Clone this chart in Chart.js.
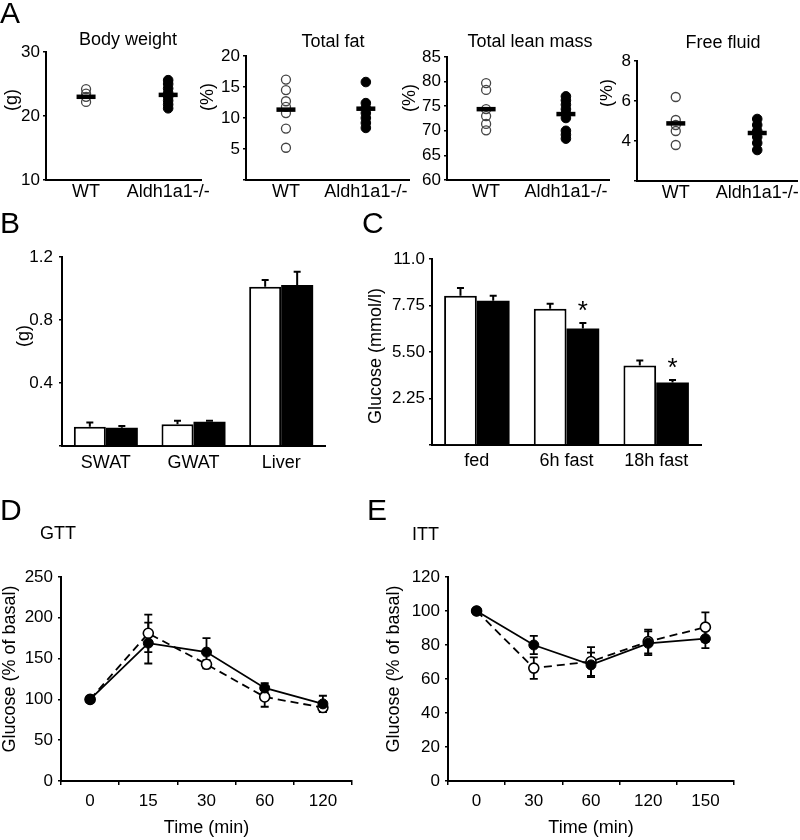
<!DOCTYPE html>
<html><head><meta charset="utf-8">
<script src="https://cdn.jsdelivr.net/npm/chart.js@4.4.1/dist/chart.umd.min.js"></script>
<style>
html,body{margin:0;padding:0;background:#fff;}
#wrap{position:relative;width:800px;height:840px;overflow:hidden;background:#fff;}
#wrap canvas{position:absolute;}
</style></head><body><div id="wrap"></div>
<script>
// ---------------- DATA ----------------
const groupLabels = ['WT', 'Aldh1a1-/-'];

const bodyWeightWT = [24.2, 23.5, 23.0, 22.2];
const bodyWeightKO = [25.6, 25.0, 24.3, 23.6, 23.0, 22.4, 21.8, 21.2];
const bodyWeightMean = [23.0, 23.3];

const totalFatWT = [16.2, 14.5, 12.7, 11.8, 10.8, 8.3, 5.2];
const totalFatKO = [15.8, 12.4, 11.6, 10.8, 10.0, 9.2, 8.4];
const totalFatMean = [11.35, 11.5];

const leanMassWT = [79.7, 78.3, 74.4, 73.0, 71.4, 70.1];
const leanMassKO = [77.0, 76.2, 75.3, 74.4, 73.5, 72.6, 70.0, 69.2, 68.4];
const leanMassMean = [74.4, 73.4];

const freeFluidWT = [6.2, 5.05, 4.8, 4.5, 3.8];
const freeFluidKO = [5.1, 4.8, 4.5, 4.2, 3.9, 3.55];
const freeFluidMean = [4.88, 4.4];

const tissueCategories = ['SWAT', 'GWAT', 'Liver'];
const tissueWT = [0.123, 0.138, 1.011];
const tissueWTErr = [0.027, 0.022, 0.043];
const tissueKO = [0.116, 0.154, 1.022];
const tissueKOErr = [0.011, 0.006, 0.085];

const glucoseCategories = ['fed', '6h fast', '18h fast'];
const glucoseWT = [8.83, 8.06, 4.70];
const glucoseWTErr = [0.45, 0.29, 0.29];
const glucoseKO = [8.53, 6.89, 3.69];
const glucoseKOErr = [0.30, 0.32, 0.16];
const glucoseSig = ['', '*', '*'];
const glucoseTickLabels = ['', '2.25', '5.50', '7.75', '11.0'];

const gttTimes = ['0', '15', '30', '60', '120'];
const gttWT = [100, 181, 143, 103, 90];
const gttWTErr = [0, 23, 5, 12, 5];
const gttKO = [100, 169, 158, 114, 94.5];
const gttKOErr = [0, 25, 17, 6, 10];

const ittTimes = ['0', '30', '60', '120', '150'];
const ittWT = [100, 66.4, 70.3, 82.0, 90.5];
const ittWTErr = [0, 6.3, 8.5, 7.0, 8.7];
const ittKO = [100, 80.0, 68.3, 81.0, 83.7];
const ittKOErr = [0, 5.4, 7.2, 7.0, 5.5];

// ---------------- SETUP ----------------
const FONT = "'Liberation Sans', Arial, Helvetica, sans-serif";
Chart.defaults.font.family = FONT;
Chart.defaults.color = '#000';
Chart.defaults.animation = false;
Chart.defaults.events = [];
Chart.defaults.plugins.legend.display = false;
Chart.defaults.plugins.tooltip.enabled = false;

function drawErrors(chart, before) {
  const ctx = chart.ctx, y = chart.scales.y;
  chart.data.datasets.forEach((ds, i) => {
    if (!ds.errors || !!ds.errBefore !== before) return;
    const meta = chart.getDatasetMeta(i);
    ctx.save();
    ctx.strokeStyle = '#000';
    ctx.lineWidth = ds.errWidth || 2;
    meta.data.forEach((el, j) => {
      const v = ds.data[j], e = ds.errors[j];
      if (!e) return;
      const x = el.x;
      const top = y.getPixelForValue(v + e);
      const bottom = y.getPixelForValue(ds.errBoth ? v - e : v);
      const cw = ds.capHalf || 4;
      ctx.beginPath();
      ctx.moveTo(x, top); ctx.lineTo(x, bottom);
      ctx.moveTo(x - cw, top); ctx.lineTo(x + cw, top);
      if (ds.errBoth) { ctx.moveTo(x - cw, bottom); ctx.lineTo(x + cw, bottom); }
      ctx.stroke();
    });
    ctx.restore();
  });
}
const errorBarPlugin = {
  id: 'errorBars',
  beforeDatasetsDraw(chart) { drawErrors(chart, true); },
  afterDatasetsDraw(chart) {
    drawErrors(chart, false);
    const ctx = chart.ctx, y = chart.scales.y;
    chart.data.datasets.forEach((ds, i) => {
      if (!ds.sig) return;
      const meta = chart.getDatasetMeta(i);
      ctx.save();
      ctx.fillStyle = '#000';
      ctx.font = '26px ' + FONT;
      ctx.textAlign = 'center';
      ctx.textBaseline = 'alphabetic';
      meta.data.forEach((el, j) => {
        if (!ds.sig[j]) return;
        const top = y.getPixelForValue(ds.data[j] + (ds.errors ? ds.errors[j] : 0));
        ctx.fillText(ds.sig[j], el.x, top - 4);
      });
      ctx.restore();
    });
  }
};

const textPlugin = {
  id: 'panelText',
  afterDraw(chart, args, opts) {
    const ctx = chart.ctx;
    (opts.items || []).forEach(it => {
      ctx.save();
      ctx.font = it.size + 'px ' + FONT;
      ctx.fillStyle = '#000';
      ctx.textAlign = it.align || 'center';
      ctx.textBaseline = it.baseline || 'middle';
      ctx.translate(it.x, it.y);
      if (it.rot) ctx.rotate(it.rot * Math.PI / 180);
      ctx.fillText(it.text, 0, 0);
      ctx.restore();
    });
  }
};

function makeCanvas(box) {
  const c = document.createElement('canvas');
  c.width = box.w; c.height = box.h;
  c.style.left = box.x + 'px'; c.style.top = box.y + 'px';
  c.style.width = box.w + 'px'; c.style.height = box.h + 'px';
  document.getElementById('wrap').appendChild(c);
  return c;
}
function frame(box, area) {
  return {
    padding: { left: 0, top: area.t - box.y, right: box.x + box.w - area.r, bottom: 0 },
    yWidth: area.l - box.x,
    xHeight: box.y + box.h - area.b
  };
}
const axisBorder = { display: true, color: '#000', width: 2 };
const yGrid = { drawOnChartArea: false, drawTicks: true, tickLength: 3, color: '#000', lineWidth: 1.5 };

// ---------------- PANEL A ----------------
function scatterPanel(box, area, cfg) {
  const f = frame(box, area);
  return new Chart(makeCanvas(box), {
    type: 'scatter',
    data: { datasets: [
      { data: cfg.means.map((v, i) => ({ x: i + 1, y: v })), pointStyle: 'line', pointRadius: 9.5,
        pointBorderColor: '#000', pointBorderWidth: 4.5, pointBackgroundColor: '#000', order: 0 },
      { data: cfg.wt.map(v => ({ x: 1, y: v })), pointRadius: 4.5, pointBackgroundColor: 'rgba(255,255,255,0)',
        pointBorderColor: '#444', pointBorderWidth: 1.3, order: 2 },
      { data: cfg.ko.map(v => ({ x: 2, y: v })), pointRadius: 4.8, pointBackgroundColor: '#000',
        pointBorderColor: '#000', pointBorderWidth: 1, order: 1 }
    ]},
    options: {
      responsive: false,
      layout: { autoPadding: false, padding: f.padding },
      scales: {
        x: { type: 'linear', min: cfg.xmin, max: cfg.xmax,
             afterFit: s => { s.height = f.xHeight; },
             afterBuildTicks: s => { s.ticks = groupLabels.map((_, i) => ({ value: i + 1 })); },
             ticks: { callback: v => groupLabels[v - 1] || '', font: { size: 18 }, padding: 1, autoSkip: false, maxRotation: 0 },
             grid: { display: false, drawTicks: false }, border: axisBorder },
        y: { min: cfg.ymin, max: cfg.ymax,
             afterFit: s => { s.width = f.yWidth; },
             ticks: { stepSize: cfg.step, callback: v => (cfg.hideMin && v === cfg.ymin) ? '' : v, font: { size: 17 }, padding: 3 },
             grid: yGrid, border: axisBorder }
      },
      plugins: { panelText: { items: cfg.texts } }
    },
    plugins: [textPlugin]
  });
}

scatterPanel({ x: 0, y: 0, w: 215, h: 205 }, { l: 46, t: 52, r: 201, b: 180 }, {
  wt: bodyWeightWT, ko: bodyWeightKO, means: bodyWeightMean, xmin: 0.512, xmax: 2.4,
  ymin: 10, ymax: 30, step: 10, hideMin: false,
  texts: [
    { text: 'A', x: 0, y: 23, size: 30, align: 'left', baseline: 'alphabetic' },
    { text: 'Body weight', x: 128, y: 40, size: 18 },
    { text: '(g)', x: 12, y: 100, size: 18, rot: -90 }
  ]
});
scatterPanel({ x: 200, y: 0, w: 215, h: 205 }, { l: 246, t: 56, r: 409, b: 180 }, {
  wt: totalFatWT, ko: totalFatKO, means: totalFatMean, xmin: 0.5, xmax: 2.54,
  ymin: 0, ymax: 20, step: 5, hideMin: true,
  texts: [
    { text: 'Total fat', x: 133, y: 42, size: 18 },
    { text: '(%)', x: 8, y: 97, size: 18, rot: -90 }
  ]
});
scatterPanel({ x: 400, y: 0, w: 215, h: 205 }, { l: 447, t: 57, r: 609, b: 180 }, {
  wt: leanMassWT, ko: leanMassKO, means: leanMassMean, xmin: 0.51, xmax: 2.54,
  ymin: 60, ymax: 85, step: 5, hideMin: false,
  texts: [
    { text: 'Total lean mass', x: 130, y: 42, size: 18 },
    { text: '(%)', x: 10, y: 98, size: 18, rot: -90 }
  ]
});
scatterPanel({ x: 600, y: 0, w: 200, h: 205 }, { l: 637, t: 61, r: 799, b: 181 }, {
  wt: freeFluidWT, ko: freeFluidKO, means: freeFluidMean, xmin: 0.524, xmax: 2.5,
  ymin: 2, ymax: 8, step: 2, hideMin: true,
  texts: [
    { text: 'Free fluid', x: 123, y: 43, size: 18 },
    { text: '(%)', x: 7, y: 93, size: 18, rot: -90 }
  ]
});

// ---------------- PANELS B, C ----------------
function barPanel(box, area, cfg) {
  const f = frame(box, area);
  return new Chart(makeCanvas(box), {
    type: 'bar',
    data: { labels: cfg.labels, datasets: [
      { data: cfg.wt, errors: cfg.wtErr, backgroundColor: '#fff', borderColor: '#000', borderWidth: 2,
        categoryPercentage: 0.73, barPercentage: 1, capHalf: 3.5 },
      { data: cfg.ko, errors: cfg.koErr, sig: cfg.sig, backgroundColor: '#000', borderColor: '#000', borderWidth: 0,
        categoryPercentage: 0.73, barPercentage: 1, capHalf: 3.5 }
    ]},
    options: {
      responsive: false,
      layout: { autoPadding: false, padding: f.padding },
      scales: {
        x: { afterFit: s => { s.height = f.xHeight; },
             ticks: { font: { size: 18 }, padding: cfg.xPad, autoSkip: false, maxRotation: 0 },
             grid: { display: false, drawTicks: false }, border: axisBorder },
        y: { min: 0, max: cfg.ymax,
             afterFit: s => { s.width = f.yWidth; },
             ticks: { stepSize: cfg.step, callback: cfg.tickCb, font: { size: 17 }, padding: cfg.yPad },
             grid: yGrid, border: axisBorder }
      },
      plugins: { panelText: { items: cfg.texts } }
    },
    plugins: [errorBarPlugin, textPlugin]
  });
}

barPanel({ x: 0, y: 205, w: 345, h: 270 }, { l: 62, t: 257, r: 325, b: 446 }, {
  labels: tissueCategories, wt: tissueWT, wtErr: tissueWTErr, ko: tissueKO, koErr: tissueKOErr,
  ymax: 1.2, step: 0.4, xPad: 6, yPad: 6,
  tickCb: v => v === 0 ? '' : v.toFixed(1),
  texts: [
    { text: 'B', x: 0, y: 28, size: 30, align: 'left', baseline: 'alphabetic' },
    { text: '(g)', x: 24, y: 131, size: 18, rot: -90 }
  ]
});
barPanel({ x: 345, y: 205, w: 455, h: 270 }, { l: 432, t: 259, r: 701, b: 445 }, {
  labels: glucoseCategories, wt: glucoseWT, wtErr: glucoseWTErr, ko: glucoseKO, koErr: glucoseKOErr, sig: glucoseSig,
  ymax: 11, step: 2.75, xPad: 5, yPad: 4,
  tickCb: (v, i) => glucoseTickLabels[i] || '',
  texts: [
    { text: 'C', x: 17, y: 28, size: 30, align: 'left', baseline: 'alphabetic' },
    { text: 'Glucose (mmol/l)', x: 31, y: 151, size: 18, rot: -90 }
  ]
});

// ---------------- PANELS D, E ----------------
function linePanel(box, area, cfg) {
  const f = frame(box, area);
  return new Chart(makeCanvas(box), {
    type: 'line',
    data: { labels: cfg.labels, datasets: [
      { data: cfg.ko, errors: cfg.koErr, errBoth: true, errBefore: true, errWidth: 1.8, capHalf: 4,
        borderColor: '#000', borderWidth: 1.8, tension: 0,
        pointRadius: 5, pointBackgroundColor: '#000', pointBorderColor: '#000', pointBorderWidth: 1, order: 0 },
      { data: cfg.wt, errors: cfg.wtErr, errBoth: true, errBefore: true, errWidth: 1.8, capHalf: 4,
        borderColor: '#000', borderWidth: 1.8, borderDash: [8, 5], tension: 0,
        pointRadius: 5, pointBackgroundColor: '#fff', pointBorderColor: '#000', pointBorderWidth: 1.6, order: 1 }
    ]},
    options: {
      responsive: false,
      layout: { autoPadding: false, padding: f.padding },
      scales: {
        x: { type: 'category', offset: true,
             afterFit: s => { s.height = f.xHeight; },
             ticks: { font: { size: 17 }, padding: 6, autoSkip: false, maxRotation: 0 },
             grid: { offset: true, drawOnChartArea: false, drawTicks: true, tickLength: 4, color: '#000', lineWidth: 1.5 },
             border: axisBorder,
             title: { display: true, text: 'Time (min)', font: { size: 18 }, padding: { top: 0, bottom: 1 } } },
        y: { min: 0, max: cfg.ymax,
             afterFit: s => { s.width = f.yWidth; },
             ticks: { stepSize: cfg.step, font: { size: 17 }, padding: 5 },
             grid: yGrid, border: axisBorder }
      },
      plugins: { panelText: { items: cfg.texts } }
    },
    plugins: [errorBarPlugin, textPlugin]
  });
}

linePanel({ x: 0, y: 475, w: 380, h: 365 }, { l: 61, t: 577, r: 352, b: 781 }, {
  labels: gttTimes, wt: gttWT, wtErr: gttWTErr, ko: gttKO, koErr: gttKOErr, ymax: 250, step: 50,
  texts: [
    { text: 'D', x: 0, y: 45, size: 30, align: 'left', baseline: 'alphabetic' },
    { text: 'GTT', x: 40, y: 59, size: 18, align: 'left' },
    { text: 'Glucose (% of basal)', x: 10, y: 194, size: 18, rot: -90 }
  ]
});
linePanel({ x: 360, y: 475, w: 440, h: 365 }, { l: 448, t: 577, r: 734, b: 781 }, {
  labels: ittTimes, wt: ittWT, wtErr: ittWTErr, ko: ittKO, koErr: ittKOErr, ymax: 120, step: 20,
  texts: [
    { text: 'E', x: 7, y: 45, size: 30, align: 'left', baseline: 'alphabetic' },
    { text: 'ITT', x: 52, y: 60, size: 18, align: 'left' },
    { text: 'Glucose (% of basal)', x: 34, y: 194, size: 18, rot: -90 }
  ]
});
</script>
</body></html>
